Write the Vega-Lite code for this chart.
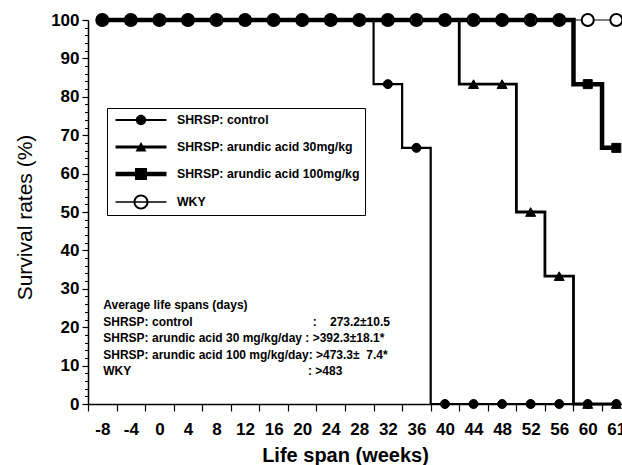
{
  "$schema": "https://vega.github.io/schema/vega-lite/v6.json",
  "width": 534,
  "height": 384,
  "autosize": {"type": "none"},
  "padding": {"left": 88, "top": 20, "right": 0, "bottom": 61},
  "background": "white",
  "config": {
    "view": {"stroke": null},
    "font": "Liberation Sans",
    "legend": {
      "orient": "none",
      "legendX": 19,
      "legendY": 88,
      "direction": "vertical",
      "padding": 5,
      "strokeColor": "black",
      "fillColor": "white",
      "cornerRadius": 0,
      "labelFont": "Liberation Sans",
      "labelFontSize": 12.3,
      "labelFontWeight": "bold",
      "labelColor": "black",
      "labelLimit": 400,
      "labelOffset": 29,
      "symbolOffset": 22,
      "rowPadding": 13,
      "symbolSize": 196,
      "symbolStrokeWidth": 0,
      "symbolFillColor": "black"
    }
  },
  "datasets": {
    "survival": [
      {"group": "WKY", "week": -8, "survival": 100},
      {"group": "WKY", "week": -4, "survival": 100},
      {"group": "WKY", "week": 0, "survival": 100},
      {"group": "WKY", "week": 4, "survival": 100},
      {"group": "WKY", "week": 8, "survival": 100},
      {"group": "WKY", "week": 12, "survival": 100},
      {"group": "WKY", "week": 16, "survival": 100},
      {"group": "WKY", "week": 20, "survival": 100},
      {"group": "WKY", "week": 24, "survival": 100},
      {"group": "WKY", "week": 28, "survival": 100},
      {"group": "WKY", "week": 32, "survival": 100},
      {"group": "WKY", "week": 36, "survival": 100},
      {"group": "WKY", "week": 40, "survival": 100},
      {"group": "WKY", "week": 44, "survival": 100},
      {"group": "WKY", "week": 48, "survival": 100},
      {"group": "WKY", "week": 52, "survival": 100},
      {"group": "WKY", "week": 56, "survival": 100},
      {"group": "WKY", "week": 60, "survival": 100},
      {"group": "WKY", "week": 61, "survival": 100},
      {"group": "SHRSP: control", "week": -8, "survival": 100},
      {"group": "SHRSP: control", "week": -4, "survival": 100},
      {"group": "SHRSP: control", "week": 0, "survival": 100},
      {"group": "SHRSP: control", "week": 4, "survival": 100},
      {"group": "SHRSP: control", "week": 8, "survival": 100},
      {"group": "SHRSP: control", "week": 12, "survival": 100},
      {"group": "SHRSP: control", "week": 16, "survival": 100},
      {"group": "SHRSP: control", "week": 20, "survival": 100},
      {"group": "SHRSP: control", "week": 24, "survival": 100},
      {"group": "SHRSP: control", "week": 28, "survival": 100},
      {"group": "SHRSP: control", "week": 32, "survival": 83.3},
      {"group": "SHRSP: control", "week": 36, "survival": 66.7},
      {"group": "SHRSP: control", "week": 40, "survival": 0},
      {"group": "SHRSP: control", "week": 44, "survival": 0},
      {"group": "SHRSP: control", "week": 48, "survival": 0},
      {"group": "SHRSP: control", "week": 52, "survival": 0},
      {"group": "SHRSP: control", "week": 56, "survival": 0},
      {"group": "SHRSP: control", "week": 60, "survival": 0},
      {"group": "SHRSP: control", "week": 61, "survival": 0},
      {"group": "SHRSP: arundic acid 30mg/kg", "week": -8, "survival": 100},
      {"group": "SHRSP: arundic acid 30mg/kg", "week": -4, "survival": 100},
      {"group": "SHRSP: arundic acid 30mg/kg", "week": 0, "survival": 100},
      {"group": "SHRSP: arundic acid 30mg/kg", "week": 4, "survival": 100},
      {"group": "SHRSP: arundic acid 30mg/kg", "week": 8, "survival": 100},
      {"group": "SHRSP: arundic acid 30mg/kg", "week": 12, "survival": 100},
      {"group": "SHRSP: arundic acid 30mg/kg", "week": 16, "survival": 100},
      {"group": "SHRSP: arundic acid 30mg/kg", "week": 20, "survival": 100},
      {"group": "SHRSP: arundic acid 30mg/kg", "week": 24, "survival": 100},
      {"group": "SHRSP: arundic acid 30mg/kg", "week": 28, "survival": 100},
      {"group": "SHRSP: arundic acid 30mg/kg", "week": 32, "survival": 100},
      {"group": "SHRSP: arundic acid 30mg/kg", "week": 36, "survival": 100},
      {"group": "SHRSP: arundic acid 30mg/kg", "week": 40, "survival": 100},
      {"group": "SHRSP: arundic acid 30mg/kg", "week": 44, "survival": 83.3},
      {"group": "SHRSP: arundic acid 30mg/kg", "week": 48, "survival": 83.3},
      {"group": "SHRSP: arundic acid 30mg/kg", "week": 52, "survival": 50},
      {"group": "SHRSP: arundic acid 30mg/kg", "week": 56, "survival": 33.3},
      {"group": "SHRSP: arundic acid 30mg/kg", "week": 60, "survival": 0},
      {"group": "SHRSP: arundic acid 30mg/kg", "week": 61, "survival": 0},
      {"group": "SHRSP: arundic acid 100mg/kg", "week": -8, "survival": 100},
      {"group": "SHRSP: arundic acid 100mg/kg", "week": -4, "survival": 100},
      {"group": "SHRSP: arundic acid 100mg/kg", "week": 0, "survival": 100},
      {"group": "SHRSP: arundic acid 100mg/kg", "week": 4, "survival": 100},
      {"group": "SHRSP: arundic acid 100mg/kg", "week": 8, "survival": 100},
      {"group": "SHRSP: arundic acid 100mg/kg", "week": 12, "survival": 100},
      {"group": "SHRSP: arundic acid 100mg/kg", "week": 16, "survival": 100},
      {"group": "SHRSP: arundic acid 100mg/kg", "week": 20, "survival": 100},
      {"group": "SHRSP: arundic acid 100mg/kg", "week": 24, "survival": 100},
      {"group": "SHRSP: arundic acid 100mg/kg", "week": 28, "survival": 100},
      {"group": "SHRSP: arundic acid 100mg/kg", "week": 32, "survival": 100},
      {"group": "SHRSP: arundic acid 100mg/kg", "week": 36, "survival": 100},
      {"group": "SHRSP: arundic acid 100mg/kg", "week": 40, "survival": 100},
      {"group": "SHRSP: arundic acid 100mg/kg", "week": 44, "survival": 100},
      {"group": "SHRSP: arundic acid 100mg/kg", "week": 48, "survival": 100},
      {"group": "SHRSP: arundic acid 100mg/kg", "week": 52, "survival": 100},
      {"group": "SHRSP: arundic acid 100mg/kg", "week": 56, "survival": 100},
      {"group": "SHRSP: arundic acid 100mg/kg", "week": 60, "survival": 83.3},
      {"group": "SHRSP: arundic acid 100mg/kg", "week": 61, "survival": 66.7}
    ]
  },
  "data": {"name": "survival"},
  "layer": [
    {
      "mark": {"type": "line", "interpolate": "step", "color": "black"},
      "encoding": {
        "x": {
          "field": "week", "type": "ordinal", "bandPosition": 0.5,
          "title": "Life span (weeks)",
          "scale": {"type": "band", "domain": [-8, -4, 0, 4, 8, 12, 16, 20, 24, 28, 32, 36, 40, 44, 48, 52, 56, 60, 61], "range": [0, 542.6], "paddingInner": 0, "paddingOuter": 0},
          "axis": {
            "orient": "bottom",
            "titleFont": "Liberation Sans", "titleFontSize": 20, "titleFontWeight": "bold", "titleColor": "black",
            "titleX": 257, "titleY": 51, "titleBaseline": "middle", "titleAlign": "center",
            "labelFont": "Liberation Sans", "labelFontSize": 17, "labelFontWeight": "bold", "labelColor": "black",
            "labelAngle": 0, "labelPadding": 10, "labelFlush": false, "labelOverlap": false,
            "tickSize": 7, "tickBand": "extent", "tickColor": "black", "tickWidth": 1.2,
            "domainColor": "black", "domainWidth": 1.5, "grid": false
          }
        },
        "y": {
          "field": "survival", "type": "quantitative", "title": "Survival rates (%)",
          "scale": {"domain": [0, 100], "nice": false},
          "axis": {
            "orient": "left",
            "values": [0, 10, 20, 30, 40, 50, 60, 70, 80, 90, 100],
            "titleFont": "Liberation Sans", "titleFontSize": 21, "titleFontWeight": "normal", "titleColor": "black",
            "titleX": -63, "titleY": 197, "titleAngle": -90, "titleBaseline": "middle", "titleAlign": "center",
            "labelFont": "Liberation Sans", "labelFontSize": 17, "labelFontWeight": "bold", "labelColor": "black",
            "labelPadding": 3, "labelFlush": false, "labelOverlap": false,
            "tickSize": 6, "tickColor": "black", "tickWidth": 1.2,
            "domainColor": "black", "domainWidth": 1.5, "grid": false
          }
        },
        "detail": {"field": "group"},
        "strokeWidth": {
          "field": "group", "type": "ordinal",
          "scale": {"type": "ordinal", "domain": ["SHRSP: control", "SHRSP: arundic acid 30mg/kg", "SHRSP: arundic acid 100mg/kg", "WKY"], "range": [2.2, 2.8, 4.5, 1.2]},
          "legend": null
        }
      }
    },
    {
      "mark": {"type": "point", "filled": true, "stroke": "black", "opacity": 1},
      "encoding": {
        "x": {"field": "week", "type": "ordinal", "bandPosition": 0.5, "title": "Life span (weeks)"},
        "y": {
          "field": "survival", "type": "quantitative",
          "axis": {
            "orient": "left", "title": null, "labels": false, "domain": false, "grid": false,
            "values": [0, 2, 4, 6, 8, 10, 12, 14, 16, 18, 20, 22, 24, 26, 28, 30, 32, 34, 36, 38, 40, 42, 44, 46, 48, 50, 52, 54, 56, 58, 60, 62, 64, 66, 68, 70, 72, 74, 76, 78, 80, 82, 84, 86, 88, 90, 92, 94, 96, 98, 100],
            "tickSize": 3.5, "tickColor": "black", "tickWidth": 1
          }
        },
        "shape": {
          "field": "group", "type": "nominal",
          "scale": {"domain": ["SHRSP: control", "SHRSP: arundic acid 30mg/kg", "SHRSP: arundic acid 100mg/kg", "WKY"], "range": ["circle", "triangle-up", "square", "circle"]},
          "legend": null
        },
        "size": {
          "field": "group", "type": "ordinal",
          "scale": {"type": "ordinal", "domain": ["SHRSP: control", "SHRSP: arundic acid 30mg/kg", "SHRSP: arundic acid 100mg/kg", "WKY"], "range": [81, 100, 81, 144]},
          "legend": null
        },
        "fill": {
          "field": "group", "type": "nominal",
          "scale": {"domain": ["SHRSP: control", "SHRSP: arundic acid 30mg/kg", "SHRSP: arundic acid 100mg/kg", "WKY"], "range": ["black", "black", "black", "white"]},
          "legend": null
        },
        "strokeWidth": {
          "field": "group", "type": "ordinal",
          "scale": {"type": "ordinal", "domain": ["SHRSP: control", "SHRSP: arundic acid 30mg/kg", "SHRSP: arundic acid 100mg/kg", "WKY"], "range": [1, 1, 1, 2]},
          "legend": null
        }
      }
    },
    {
      "data": {"values": [{}]},
      "mark": {
        "type": "text", "align": "left", "baseline": "top", "dx": 1,
        "font": "Liberation Sans", "fontSize": 12, "fontWeight": "bold", "color": "black", "lineHeight": 16.6,
        "text": [
          "Average life spans (days)",
          "SHRSP: control\u00a0\u00a0\u00a0\u00a0\u00a0\u00a0\u00a0\u00a0\u00a0\u00a0\u00a0\u00a0\u00a0\u00a0\u00a0\u00a0\u00a0\u00a0\u00a0\u00a0\u00a0\u00a0\u00a0\u00a0\u00a0\u00a0\u00a0\u00a0\u00a0\u00a0\u00a0\u00a0\u00a0\u00a0\u00a0\u00a0:\u00a0\u00a0\u00a0\u00a0273.2±10.5",
          "SHRSP: arundic acid 30 mg/kg/day\u00a0: >392.3±18.1*",
          "SHRSP: arundic acid 100 mg/kg/day: >473.3±\u00a0\u00a07.4*",
          "WKY\u00a0\u00a0\u00a0\u00a0\u00a0\u00a0\u00a0\u00a0\u00a0\u00a0\u00a0\u00a0\u00a0\u00a0\u00a0\u00a0\u00a0\u00a0\u00a0\u00a0\u00a0\u00a0\u00a0\u00a0\u00a0\u00a0\u00a0\u00a0\u00a0\u00a0\u00a0\u00a0\u00a0\u00a0\u00a0\u00a0\u00a0\u00a0\u00a0\u00a0\u00a0\u00a0\u00a0\u00a0\u00a0\u00a0\u00a0\u00a0\u00a0\u00a0\u00a0\u00a0\u00a0: >483"
        ]
      },
      "encoding": {
        "x": {"datum": -8, "type": "ordinal", "title": "Life span (weeks)"},
        "y": {"datum": 27.1, "type": "quantitative", "axis": null}
      }
    },
    {
      "transform": [{"filter": "false"}],
      "mark": {"type": "point", "filled": true, "color": "black", "size": 196, "opacity": 1},
      "encoding": {
        "shape": {
          "field": "group", "type": "nominal", "title": null,
          "scale": {
            "domain": ["SHRSP: control", "SHRSP: arundic acid 30mg/kg", "SHRSP: arundic acid 100mg/kg", "WKY"],
            "range": [
              "M-3.64,-0.157H3.64V0.157H-3.64ZM-0.74,0A0.74,0.74,0,1,1,0.74,0A0.74,0.74,0,1,1,-0.74,0Z",
              "M-3.64,-0.2H3.64V0.2H-3.64ZM0,-0.72L0.79,0.64L-0.79,0.64Z",
              "M-3.64,-0.33H3.64V0.33H-3.64ZM-0.86,-0.86H0.86V0.86H-0.86Z",
              "M-3.64,-0.1H3.64V0.1H-3.64ZM-1.07,0A1.07,1.07,0,1,1,1.07,0A1.07,1.07,0,1,1,-1.07,0ZM-0.79,0A0.79,0.79,0,1,0,0.79,0A0.79,0.79,0,1,0,-0.79,0Z"
            ]
          }
        }
      }
    }
  ],
  "resolve": {
    "scale": {"shape": "independent", "fill": "independent", "strokeWidth": "independent", "size": "independent"},
    "axis": {"y": "independent"}
  }
}
